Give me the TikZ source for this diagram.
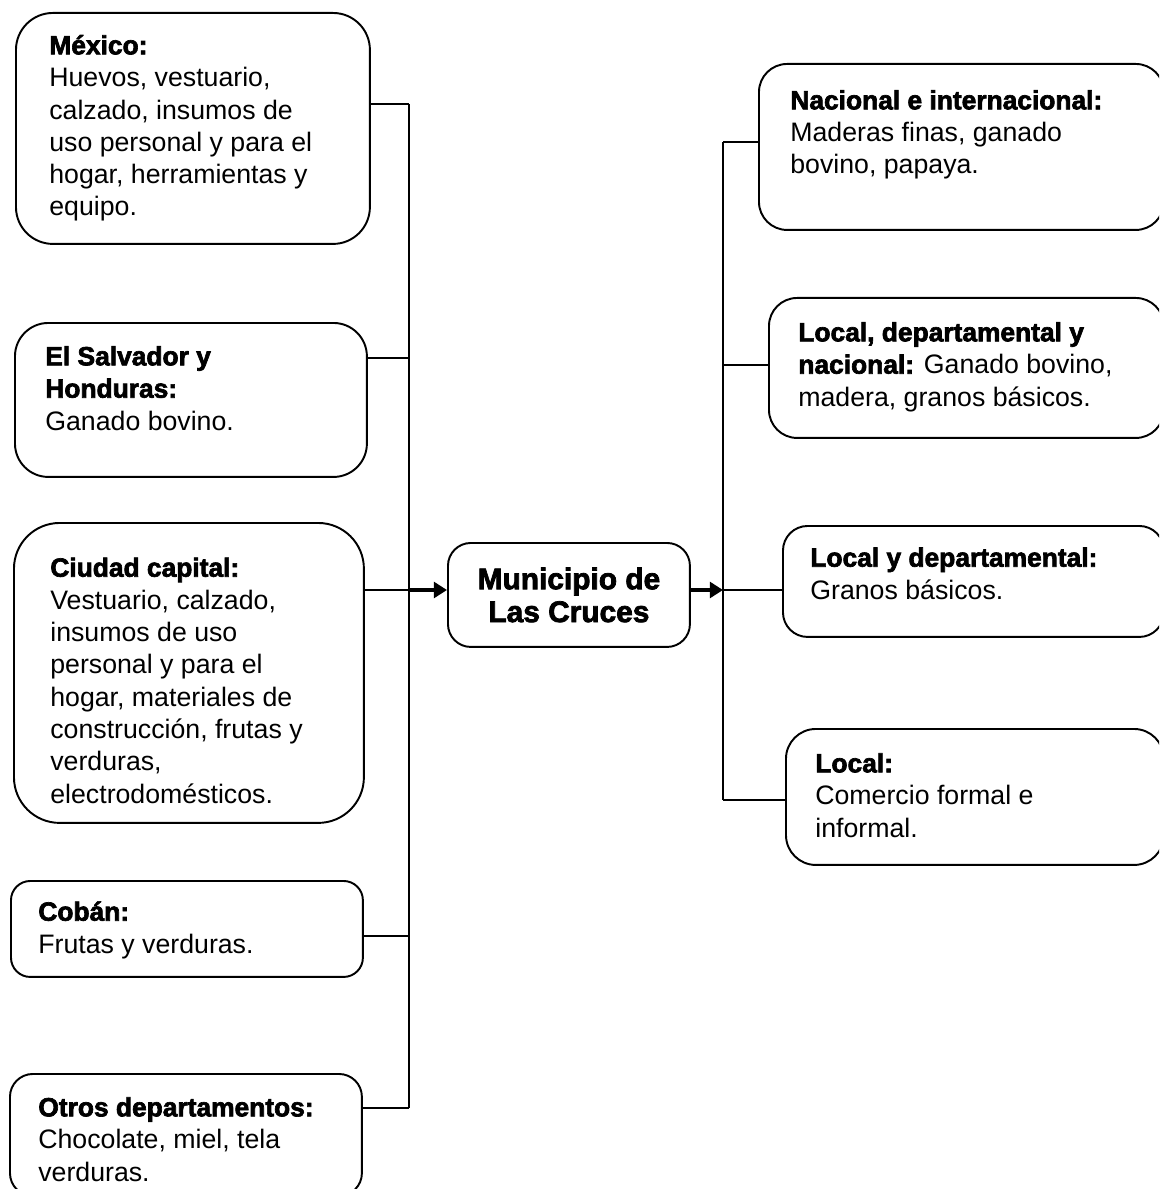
\documentclass[tikz,border=0pt]{standalone}
\usepackage{fontspec}
\setmainfont{Liberation Sans}
\newfontfamily\heavyfont[FakeBold=2.5]{Liberation Sans Bold}
\usetikzlibrary{arrows.meta}
\newcommand\hd[1]{{\heavyfont\fontsize{15}{18.4}\selectfont #1}}
\begin{document}
\begin{tikzpicture}[x=0.02cm,y=-0.02cm,
  box/.style={draw, line width=1.1pt, anchor=north west, inner sep=0pt, rounded corners=#1},
  txt/.style={anchor=base west, inner sep=0pt, align=left, font=\fontsize{15.2}{18.4}\selectfont},
  conn/.style={line width=0.9pt},
  fat/.style={line width=2.8pt, -{Triangle[length=7.5pt,width=9pt]}}]
\useasboundingbox (0,0) rectangle (1159,1189);
\clip (0,0) rectangle (1159,1189);

% left boxes
\node[box=21pt, minimum width=7.08cm, minimum height=4.62cm] (mex) at (15,12) {};
\node[box=19pt, minimum width=7.04cm, minimum height=3.08cm] (sal) at (14,322) {};
\node[box=26pt, minimum width=7.00cm, minimum height=6.00cm] (ciu) at (13,522) {};
\node[box=11pt, minimum width=7.04cm, minimum height=1.92cm] (cob) at (10,880) {};
\node[box=13pt, minimum width=7.04cm, minimum height=2.44cm] (otr) at (9,1073) {};

% centre
\node[box=13pt, minimum width=4.84cm, minimum height=2.08cm, align=center,
      font=\heavyfont\fontsize{17}{18.7}\selectfont] (cen) at (447,542) {Municipio de\\Las Cruces};

% right boxes
\node[box=16pt, minimum width=8.10cm, minimum height=3.32cm] (nac) at (758,63) {};
\node[box=16pt, minimum width=7.90cm, minimum height=2.80cm] (ldn) at (768,297) {};
\node[box=14pt, minimum width=7.62cm, minimum height=2.22cm] (lyd) at (782,525) {};
\node[box=17pt, minimum width=7.56cm, minimum height=2.72cm] (loc) at (785,728) {};

% texts (anchored at the baseline of the last line)
\node[txt] (mexT) at (49,216) {\hd{México:}\\Huevos, vestuario,\\calzado, insumos de\\uso personal y para el\\hogar, herramientas y\\equipo.};
\node[txt] (salT) at (45,430) {\hd{El Salvador y}\\\hd{Honduras:}\\Ganado bovino.};
\node[txt] (ciuT) at (50,803) {\hd{Ciudad capital:}\\Vestuario, calzado,\\insumos de uso\\personal y para el\\hogar, materiales de\\construcción, frutas y\\verduras,\\electrodomésticos.};
\node[txt] (cobT) at (38,953) {\hd{Cobán:}\\Frutas y verduras.};
\node[txt] (otrT) at (38,1181) {\hd{Otros departamentos:}\\Chocolate, miel, tela\\verduras.};
\node[txt] (nacT) at (790,174) {\hd{Nacional e internacional:}\\Maderas finas, ganado\\bovino, papaya.};
\node[txt] (ldnT) at (798,406) {\hd{Local, departamental y}\\\hd{nacional:} Ganado bovino,\\madera, granos básicos.};
\node[txt] (lydT) at (810,599) {\hd{Local y departamental:}\\Granos básicos.};
\node[txt] (locT) at (815,837) {\hd{Local:}\\Comercio formal e\\informal.};

% left bus
\coordinate (l1) at (409,104);
\coordinate (l2) at (409,358);
\coordinate (l3) at (409,590);
\coordinate (l4) at (409,936);
\coordinate (l5) at (409,1108);
\draw[conn] (l1) -- (l5);
\draw[conn] (l1 -| mex.east) -- (l1);
\draw[conn] (l2 -| sal.east) -- (l2);
\draw[conn] (l3 -| ciu.east) -- (l3);
\draw[conn] (l4 -| cob.east) -- (l4);
\draw[conn] (l5 -| otr.east) -- (l5);
\draw[fat] (l3) -- (l3 -| cen.west);

% right bus
\coordinate (r1) at (723,142);
\coordinate (r2) at (723,365);
\coordinate (r3) at (723,590);
\coordinate (r4) at (723,800);
\draw[conn] (r1) -- (r4);
\draw[conn] (r1) -- (r1 -| nac.west);
\draw[conn] (r2) -- (r2 -| ldn.west);
\draw[conn] (r3) -- (r3 -| lyd.west);
\draw[conn] (r4) -- (r4 -| loc.west);
\draw[fat] (r3 -| cen.east) -- (r3);
\end{tikzpicture}
\end{document}
